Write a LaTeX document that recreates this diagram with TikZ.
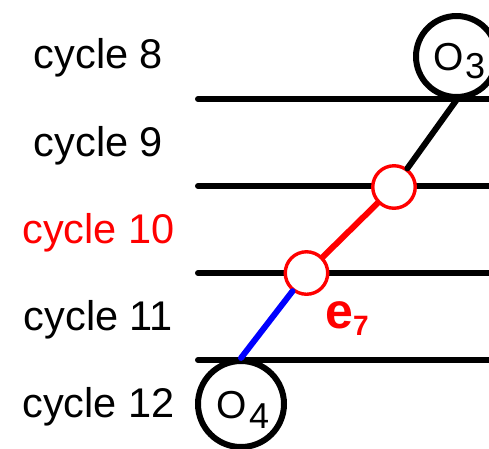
\documentclass[tikz,border=0pt]{standalone}
\usepackage{fontspec}
\setmainfont{Liberation Sans}
\begin{document}
\begin{tikzpicture}[x=1pt,y=-1pt,
  cyc/.style={anchor=base,inner sep=0pt,font=\fontsize{41.5}{41.5}\selectfont},
  hline/.style={line width=6pt,line cap=round,black},
  diag/.style={line width=6pt,line cap=round},
  opnode/.style={circle,draw=black,line width=6pt,fill=white,inner sep=0pt},
  redc/.style={circle,draw=red,line width=3.4pt,fill=white,inner sep=0pt,minimum size=42.5pt},
  optext/.style={anchor=base west,inner sep=0pt,font=\fontsize{39}{39}\selectfont}]
\useasboundingbox (0,0) rectangle (489,448);
% cycle labels
\node[cyc] (c8) at (98.5,68) {cycle 8};
\node[cyc] (c9) at (98.5,156) {cycle 9};
\node[cyc,text=red] (c10) at (98.5,243) {cycle 10};
\node[cyc] (c11) at (98.5,330) {cycle 11};
\node[cyc] (c12) at (98.5,417) {cycle 12};
% horizontal cycle boundaries
\foreach \n/\y in {1/99,2/186,3/273,4/360}{
  \coordinate (l\n w) at (198,\y);
  \coordinate (l\n e) at (492,\y);
  \draw[hline] (l\n w) -- (l\n e);
}
% nodes
\node[opnode,minimum size=81pt] (o3) at (456.5,56.5) {};
\node[opnode,minimum size=86pt] (o4) at (241,404) {};
\node[redc] (r1) at (394,187) {};
\node[redc] (r2) at (306.5,273) {};
% connectors
\draw[diag,black] (o3.south) -- (r1);
\draw[diag,red] (r1) -- (r2);
\draw[diag,blue] (r2) -- (o4.north);
% texts
\node[optext] (o3t) at (433.5,70) {O\kern1pt\raisebox{-8pt}{\fontsize{36}{36}\selectfont 3}};
\node[optext] (o4t) at (216.5,418) {O\kern2pt\raisebox{-10pt}{\fontsize{36}{36}\selectfont 4}};
\node[anchor=base west,inner sep=0pt,text=red,font=\fontsize{50}{50}\selectfont\bfseries] (e7) at (325,328) {e\kern0pt\raisebox{-7pt}{\fontsize{28}{28}\selectfont 7}};
\end{tikzpicture}
\end{document}
